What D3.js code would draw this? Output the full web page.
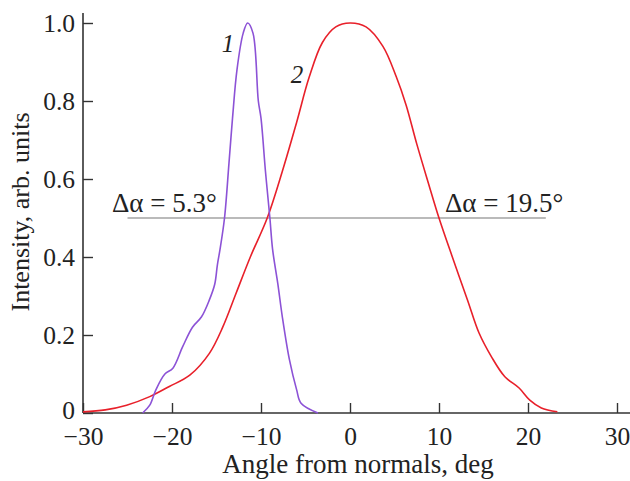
<!DOCTYPE html>
<html>
<head>
<meta charset="utf-8">
<script src="https://cdn.jsdelivr.net/npm/d3@7"></script>
<style>
  body { margin: 0; background: #fff; }
  svg text { font-family: "Times New Roman", "Liberation Serif", Times, serif; fill: #222; }
</style>
</head>
<body>
<svg id="chart" width="630" height="481"></svg>
<script>
// curve 1 (narrow peak), angle in deg / intensity
var angle1 = [-23.3, -22.5, -21.8, -20.8, -19.9, -18.8, -17.7, -16.7, -15.8, -15.2, -14.9, -14.6, -14.1, -13.6, -13.2, -12.7, -12.0, -11.5, -10.9, -10.3, -10.0, -9.5, -9.0, -8.7, -8.1, -7.6, -6.8, -6.0, -5.5, -3.6];
var inten1 = [0, 0.02, 0.06, 0.10, 0.115, 0.17, 0.22, 0.246, 0.29, 0.33, 0.38, 0.42, 0.5, 0.64, 0.756, 0.88, 0.974, 1.0, 0.974, 0.8, 0.756, 0.62, 0.5, 0.42, 0.33, 0.246, 0.136, 0.06, 0.025, 0];

// curve 2 (wide peak)
var angle2 = [-30, -27.5, -25.1, -22.5, -20.3, -18.0, -15.8, -14.3, -12.8, -11.2, -9.3, -7.6, -6.0, -4.6, -3.1, -1.6, 0, 1.8, 3.7, 5.2, 6.3, 7.5, 8.8, 10.0, 11.5, 13.2, 14.5, 15.9, 17.4, 19.0, 20.2, 21.5, 23.3];
var inten2 = [0.003, 0.008, 0.02, 0.042, 0.068, 0.097, 0.153, 0.22, 0.307, 0.40, 0.5, 0.62, 0.745, 0.86, 0.95, 0.99, 1.0, 0.99, 0.94, 0.862, 0.79, 0.69, 0.59, 0.5, 0.4, 0.29, 0.205, 0.144, 0.093, 0.064, 0.033, 0.013, 0.003];

var xTicks = [-30, -20, -10, 0, 10, 20, 30];
var yTicks = [0, 0.2, 0.4, 0.6, 0.8, 1.0];
var halfLine = [-25, 22];     // half-maximum level, from..to angle
var halfLevel = 0.5;
var widthLabels = ["\u0394\u03b1 = 5.3\u00b0", "\u0394\u03b1 = 19.5\u00b0"];
var curveNames = ["1", "2"];

var svg = d3.select("#chart");

var x = d3.scaleLinear().domain([-30, 30]).range([83, 617]);
var y = d3.scaleLinear().domain([0, 1]).range([413, 23]);

function fmtX(d){ return d < 0 ? "\u2212" + Math.abs(d) : String(d); }
function fmtY(d){ return d === 0 ? "0" : d.toFixed(1); }

// x axis
var gx = svg.append("g").attr("transform", "translate(0," + y(0) + ")");
gx.call(d3.axisBottom(x).tickValues(xTicks).tickSize(-10).tickPadding(14).tickFormat(fmtX));
gx.select(".domain").remove();
gx.attr("font-family", null);
gx.append("line").attr("x1", 83).attr("x2", 630).attr("stroke", "#333").attr("stroke-width", 1.6);
gx.selectAll(".tick line").attr("stroke", "#333").attr("stroke-width", 1.4);
gx.selectAll(".tick text").attr("font-size", 25.5).attr("fill", "#222");

// y axis
var gy = svg.append("g").attr("transform", "translate(" + x(-30) + ",0)");
gy.call(d3.axisLeft(y).tickValues(yTicks).tickSize(-10).tickPadding(8).tickFormat(fmtY));
gy.select(".domain").remove();
gy.attr("font-family", null);
gy.append("line").attr("y1", 13).attr("y2", y(0)).attr("stroke", "#333").attr("stroke-width", 1.6);
gy.selectAll(".tick line").attr("stroke", "#333").attr("stroke-width", 1.4);
gy.selectAll(".tick text").attr("font-size", 25.5).attr("fill", "#222");
// the "0" sits a touch higher so it clears the −30 below it
gy.selectAll(".tick text").filter(function(d){ return d === 0; }).attr("dy", "0.22em");

// axis titles
svg.append("text").attr("x", 358).attr("y", 473).attr("text-anchor", "middle")
    .attr("font-size", 27).text("Angle from normals, deg");
svg.append("text").attr("transform", "translate(29,212) rotate(-90)").attr("text-anchor", "middle")
    .attr("font-size", 26).text("Intensity, arb. units");

// half maximum line
svg.append("line")
    .attr("x1", x(halfLine[0])).attr("x2", x(halfLine[1]))
    .attr("y1", y(halfLevel)).attr("y2", y(halfLevel))
    .attr("stroke", "#777").attr("stroke-width", 1.2);

svg.append("text").attr("x", 112).attr("y", 212).attr("font-size", 27).text(widthLabels[0]);
svg.append("text").attr("x", 445).attr("y", 212).attr("font-size", 27).text(widthLabels[1]);

// curves
var line = d3.line()
    .x(function(d){ return x(d[0]); })
    .y(function(d){ return y(d[1]); })
    .curve(d3.curveCatmullRom.alpha(0.5));

svg.append("path").datum(d3.zip(angle2, inten2))
    .attr("d", line).attr("fill", "none").attr("stroke", "#e8202a").attr("stroke-width", 1.6);
svg.append("path").datum(d3.zip(angle1, inten1))
    .attr("d", line).attr("fill", "none").attr("stroke", "#8c52d6").attr("stroke-width", 1.6);

// curve numbers
svg.append("text").attr("x", 228).attr("y", 52).attr("text-anchor", "middle")
    .attr("font-size", 25).attr("font-style", "italic").text(curveNames[0]);
svg.append("text").attr("x", 297).attr("y", 83).attr("text-anchor", "middle")
    .attr("font-size", 25).attr("font-style", "italic").text(curveNames[1]);
</script>
</body>
</html>
